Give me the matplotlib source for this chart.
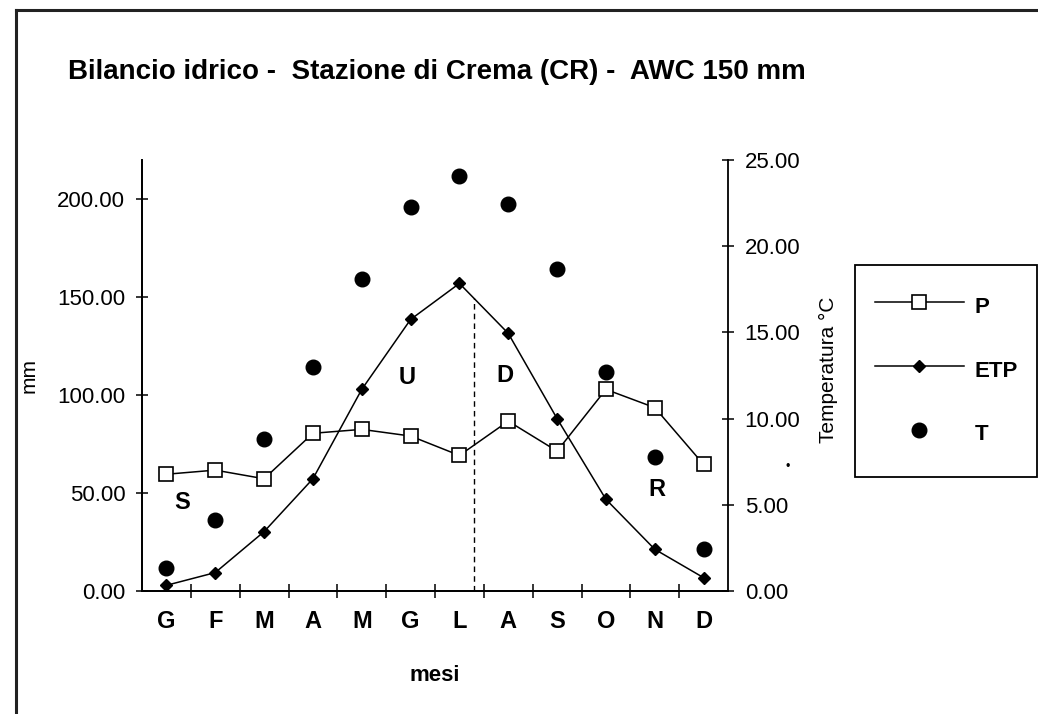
import numpy as np
import matplotlib
matplotlib.use("Agg")
import matplotlib.pyplot as plt
from matplotlib.lines import Line2D
from matplotlib.patches import Rectangle

plt.rcParams['font.family'] = ['Liberation Sans', 'DejaVu Sans']

months = ["G", "F", "M", "A", "M", "G", "L", "A", "S", "O", "N", "D"]
P = [59.6, 61.7, 57.3, 80.5, 82.5, 79.1, 69.2, 86.7, 71.4, 102.9, 93.6, 64.6]
ETP = [2.9, 9.4, 30.3, 57.3, 102.9, 138.6, 157.0, 131.5, 88.0, 46.8, 21.3, 6.8]
T = [1.35, 4.14, 8.79, 13.0, 18.1, 22.3, 24.1, 22.45, 18.66, 12.7, 7.8, 2.46]
yticks_mm = [0, 50, 100, 150, 200]
yticks_T = [0, 5, 10, 15, 20, 25]
zone_labels = ["S", "U", "D", "R"]
zone_x = [0.33, 4.94, 6.94, 10.04]
zone_y = [45, 109, 110, 52]
split_x = 6.3

W, H = 1038, 714
fig = plt.figure(figsize=(W / 100, H / 100), dpi=100)
fig.patch.set_facecolor("white")

# frame lines (left and top)
fig.add_artist(Line2D([15.7 / W, 15.7 / W], [0, 1 - 9.5 / H], color="#222222", lw=2.2,
                      transform=fig.transFigure))
fig.add_artist(Line2D([15.7 / W, 1], [1 - 9.5 / H, 1 - 9.5 / H], color="#222222", lw=2.2,
                      transform=fig.transFigure))

left, right = 142 / W, 728 / W
bottom, top = 1 - 591 / H, 1 - 160 / H
ax = fig.add_axes([left, bottom, right - left, top - bottom])
ax2 = ax.twinx()

x = np.arange(len(months))
ax.plot(x, P, color="black", lw=1.1, marker="s", markersize=9.5,
        markerfacecolor="white", markeredgecolor="black", markeredgewidth=1.2, zorder=3)
ax.plot(x, ETP, color="black", lw=1.1, marker="D", markersize=6.5,
        markerfacecolor="black", markeredgecolor="black", zorder=3)
ax2.plot(x, T, linestyle="none", marker="o", markersize=10.5, color="black", zorder=3)

# dashed split line
ytop = np.interp(split_x, x, ETP)
ax.plot([split_x, split_x], [0, ytop], color="black", lw=1.0, linestyle=(0, (4, 3)))

for lab, zx, zy in zip(zone_labels, zone_x, zone_y):
    ax.text(zx, zy, lab, ha="center", va="center", fontsize=17, fontweight="bold")

ax.set_xlim(-0.5, 11.5)
ax.set_ylim(0, 220)
ax2.set_ylim(0, 25)

ax.set_xticks(x)
ax.set_xticklabels(months, fontsize=17, fontweight="bold")
ax.set_xticks(np.arange(0.5, 11, 1), minor=True)
ax.tick_params(axis="x", which="major", length=0, pad=14)
ax.tick_params(axis="x", which="minor", direction="inout", length=10, width=1.1)

ax.set_yticks(yticks_mm)
ax.set_yticklabels([f"{v:.2f}" for v in yticks_mm], fontsize=16)
ax.tick_params(axis="y", direction="inout", length=8, width=1.1, pad=8)
ax2.set_yticks(yticks_T)
ax2.set_yticklabels([f"{v:.2f}" for v in yticks_T], fontsize=16)
ax2.tick_params(axis="y", direction="inout", length=8, width=1.1, pad=8)

for a in (ax, ax2):
    a.spines["top"].set_visible(False)
    for s in ("left", "right", "bottom"):
        a.spines[s].set_linewidth(1.3)
ax.spines["right"].set_visible(False)

ax.set_xlabel("mesi", fontsize=16, fontweight="bold", labelpad=23)
ax.set_ylabel("mm", fontsize=15)
ax.yaxis.set_label_coords(-0.177, 0.5)
ax2.set_ylabel("Temperatura °C", fontsize=15)
ax2.yaxis.set_label_coords(1.155, 0.513)

fig.text(68 / W, 1 - 72 / H, "Bilancio idrico -  Stazione di Crema (CR) -  AWC 150 mm",
         fontsize=20, fontweight="bold", ha="left", va="center")

# stray dot near right axis
fig.text(788 / W, 1 - 467 / H, "•", fontsize=9, ha="center", va="center")

# legend box
fig.add_artist(Rectangle((855 / W, 1 - 477 / H), (1037 - 855) / W, (477 - 265) / H,
                         transform=fig.transFigure, fill=False, edgecolor="black", lw=1.3))

handles = [
    Line2D([], [], color="black", lw=1.1, marker="s", markersize=9.5,
           markerfacecolor="white", markeredgecolor="black", markeredgewidth=1.2),
    Line2D([], [], color="black", lw=1.1, marker="D", markersize=6.5, markerfacecolor="black"),
    Line2D([], [], linestyle="none", marker="o", markersize=10.5, color="black"),
]
leg = fig.legend(handles, ["P", "ETP", "T"], loc="upper left",
                 bbox_to_anchor=(855 / W, 1 - 272 / H), borderaxespad=0,
                 prop={"size": 16, "weight": "bold"}, handlelength=4.0,
                 handletextpad=0.5, labelspacing=1.65, borderpad=0.9,
                 handleheight=1.5, frameon=False, numpoints=1)

fig.savefig("out.png", dpi=100, facecolor="white")
